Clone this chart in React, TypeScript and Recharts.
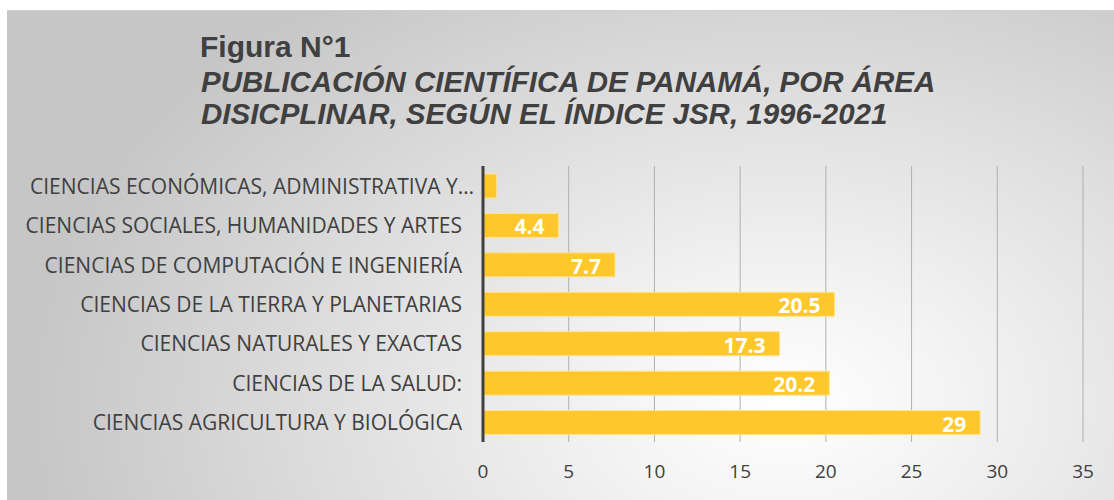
import { BarChart, Bar, XAxis, YAxis, CartesianGrid, LabelList } from "recharts"

const categories = [
  "CIENCIAS ECONÓMICAS, ADMINISTRATIVA Y…",
  "CIENCIAS SOCIALES, HUMANIDADES Y ARTES",
  "CIENCIAS DE COMPUTACIÓN E INGENIERÍA",
  "CIENCIAS DE LA TIERRA Y PLANETARIAS",
  "CIENCIAS NATURALES Y EXACTAS",
  "CIENCIAS DE LA SALUD:",
  "CIENCIAS AGRICULTURA Y BIOLÓGICA",
]
const values = [0.8, 4.4, 7.7, 20.5, 17.3, 20.2, 29]
const xTicks = [0, 5, 10, 15, 20, 25, 30, 35]

const data = categories.map((name, i) => ({ name, value: values[i] }))

const FONT = "'Open Sans', Lato, sans-serif"
const TITLE_FONT = "'Liberation Sans', Arial, sans-serif"
const TEXT = "#404040"

// value label inside the bar end, skipped when the bar is too short
const renderValue = (props: any) => {
  const { x, y, width, height, value } = props
  if (value < 1) return null
  return (
    <text
      x={x + width - 14}
      y={y + height / 2 + 1}
      textAnchor="end"
      dominantBaseline="central"
      fill="#ffffff"
      fontFamily={FONT}
      fontWeight="bold"
      fontSize={21}
    >
      {value}
    </text>
  )
}

// category tick; the truncated label sits a bit closer to the axis, like excel does it
const CategoryTick = (props: any) => {
  const { x, y, payload } = props
  const truncated = String(payload.value).endsWith("…")
  return (
    <text
      x={x + (truncated ? 12 : 0)}
      y={y}
      textAnchor="end"
      dominantBaseline="central"
      fill={TEXT}
      fontFamily={FONT}
      fontSize={21}
    >
      {payload.value}
    </text>
  )
}

export default function App() {
  return (
    <div
      style={{
        position: "absolute",
        left: 7,
        top: 10,
        width: 1107,
        height: 490,
        borderTop: "1px solid #d0d0d0",
        background:
          "radial-gradient(ellipse 68% 105% at 70% 80%, #ffffff 0%, #f4f4f4 22%, #dddddd 62%, #c6c6c6 100%)",
        overflow: "hidden",
      }}
    >
      <svg width={1107} height={140} style={{ position: "absolute", left: 0, top: 0 }}>
        <text x={193} y={46} fontFamily={TITLE_FONT} fontWeight="bold" fontSize={30} fill={TEXT}>
          Figura N°1
        </text>
        <text x={194} y={81} fontFamily={TITLE_FONT} fontWeight="bold" fontStyle="italic" fontSize={29.5} fill={TEXT}>
          PUBLICACIÓN CIENTÍFICA DE PANAMÁ, POR ÁREA
        </text>
        <text x={194} y={113} fontFamily={TITLE_FONT} fontWeight="bold" fontStyle="italic" fontSize={29.5} fill={TEXT}>
          DISICPLINAR, SEGÚN EL ÍNDICE JSR, 1996-2021
        </text>
      </svg>
      <div style={{ position: "absolute", left: 0, top: 0 }}>
        <BarChart
          width={1107}
          height={490}
          data={data}
          layout="vertical"
          margin={{ top: 155, right: 31, left: 0, bottom: 19 }}
        >
          <CartesianGrid horizontal={false} stroke="#b0b0b0" />
          <XAxis
            type="number"
            domain={[0, 35]}
            ticks={xTicks}
            height={40}
            axisLine={false}
            tickLine={false}
            tickSize={0}
            tickMargin={23}
            tick={{ fill: TEXT, fontSize: 19, fontFamily: FONT }}
          />
          <YAxis
            type="category"
            dataKey="name"
            width={476}
            axisLine={{ stroke: "#404040", strokeWidth: 3 }}
            tickLine={false}
            tickSize={0}
            tickMargin={21}
            interval={0}
            tick={<CategoryTick />}
          />
          <Bar dataKey="value" fill="#FEC82C" stroke="#FFE38F" strokeWidth={1} barSize={24} isAnimationActive={false}>
            <LabelList dataKey="value" content={renderValue} />
          </Bar>
        </BarChart>
      </div>
    </div>
  )
}
